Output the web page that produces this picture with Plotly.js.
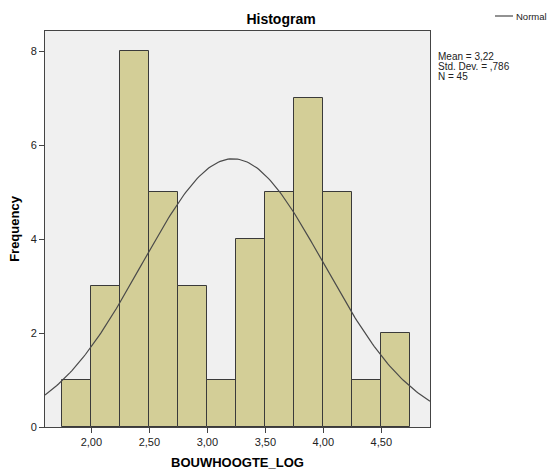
<!DOCTYPE html>
<html>
<head>
<meta charset="utf-8">
<script src="https://cdn.plot.ly/plotly-3.0.1.min.js"></script>
<style>html,body{margin:0;padding:0;background:#fff;}#chart{width:549px;height:472px;}</style>
</head>
<body>
<div id="chart"></div>
<script>
// Bin centers (bin width 0.25) and frequencies
const binCenters = [1.875, 2.125, 2.375, 2.625, 2.875, 3.125, 3.375, 3.625, 3.875, 4.125, 4.375, 4.625];
const frequencies = [1, 3, 8, 5, 3, 1, 4, 5, 7, 5, 1, 2];
const binWidth = 0.25;
// Summary statistics shown on the chart
const mean = 3.22;
const stdDev = 0.786;
const n = 45;
const xTickVals = [2.0, 2.5, 3.0, 3.5, 4.0, 4.5];
const xTickText = ["2,00", "2,50", "3,00", "3,50", "4,00", "4,50"];
const yTickVals = [0, 2, 4, 6, 8];
const statLines = ["Mean = 3,22", "Std. Dev. = ,786", "N = 45"];
const legendLabel = "Normal";

// Fitted normal curve (from the displayed mean / std. dev., scaled to counts)
const curveX = [], curveY = [];
const x0 = 1.6, x1 = 4.92, steps = 200;
for (let i = 0; i <= steps; i++) {
  const x = x0 + (x1 - x0) * i / steps;
  const z = (x - mean) / stdDev;
  curveX.push(x);
  curveY.push(n * binWidth * Math.exp(-0.5 * z * z) / (stdDev * Math.sqrt(2 * Math.PI)));
}

const font = "Arial, 'Liberation Sans', sans-serif";
const curveColor = "#4a4a4a";

const traces = [
  {
    type: "bar", x: binCenters, y: frequencies, width: binWidth,
    marker: {color: "#d3ce97", line: {color: "#3a3a3a", width: 1}},
    showlegend: false, hoverinfo: "x+y"
  },
  {
    type: "scatter", mode: "lines", x: curveX, y: curveY, name: legendLabel,
    line: {color: curveColor, width: 1.2}, hoverinfo: "skip", showlegend: false
  }
];

// pixel helpers for paper coords (plot area: x 45..430, y 31..427)
const px = v => (v - 45) / 385;
const py = v => (427 - v) / 396;

const annotations = statLines.map((t, i) => ({
  text: t, xref: "paper", yref: "paper", x: px(436), y: py(57 + i * 9.5),
  xanchor: "left", yanchor: "middle", showarrow: false,
  font: {size: 10, family: font, color: "#222"}
}));
annotations.push({
  text: legendLabel, xref: "paper", yref: "paper", x: px(514), y: py(16),
  xanchor: "left", yanchor: "middle", showarrow: false,
  font: {size: 9.5, family: font, color: "#222"}
});

const layout = {
  width: 549, height: 472,
  margin: {l: 45, r: 119, t: 31, b: 45, autoexpand: false},
  paper_bgcolor: "#ffffff",
  plot_bgcolor: "#f0f0f0",
  font: {family: font, color: "#000", size: 11},
  title: {text: "<b>Histogram</b>", font: {family: font, size: 14, color: "#000"}, x: px(281), xref: "paper", xanchor: "center", y: 1 - 19 / 472, yanchor: "middle"},
  bargap: 0,
  showlegend: false,
  xaxis: {
    range: [1.6, 4.92], tickvals: xTickVals, ticktext: xTickText,
    showgrid: false, zeroline: false, showline: true, mirror: true,
    linecolor: "#444", linewidth: 1, ticks: "outside", ticklen: 5, tickcolor: "#444",
    tickfont: {size: 11, family: font, color: "#222"},
    title: {text: "<b>BOUWHOOGTE_LOG</b>", font: {size: 13, family: font, color: "#000"}, standoff: 10}
  },
  yaxis: {
    range: [0, 8.43], tickvals: yTickVals,
    showgrid: false, zeroline: false, showline: true, mirror: true,
    linecolor: "#444", linewidth: 1, ticks: "outside", ticklen: 5, tickcolor: "#444",
    tickfont: {size: 11, family: font, color: "#222"},
    title: {text: "<b>Frequency</b>", font: {size: 13, family: font, color: "#000"}, standoff: 8}
  },
  shapes: [{
    type: "line", xref: "paper", yref: "paper",
    x0: px(495), x1: px(513), y0: py(16), y1: py(16),
    line: {color: curveColor, width: 1.2}
  }],
  annotations: annotations
};

Plotly.newPlot("chart", traces, layout, {displayModeBar: false});
</script>
</body>
</html>
